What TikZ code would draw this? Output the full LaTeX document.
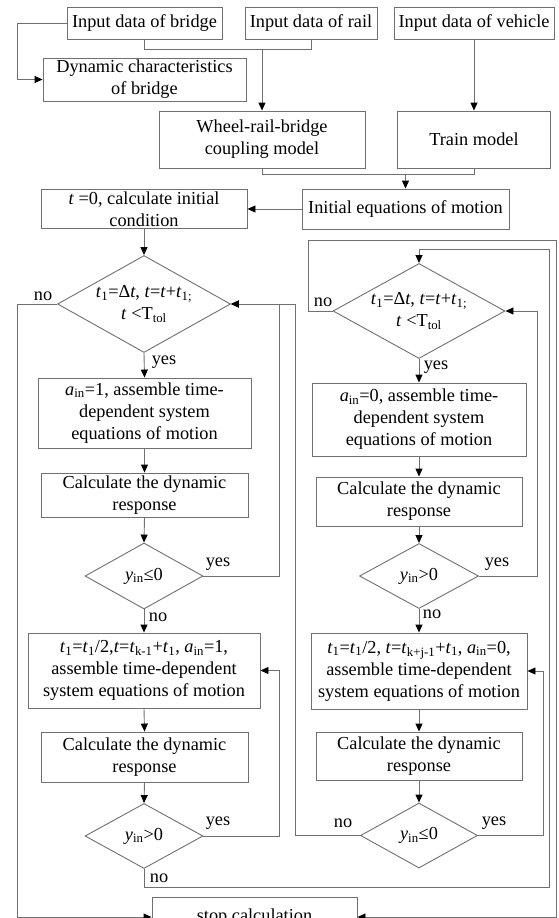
\documentclass[tikz,border=0pt]{standalone}
\usepackage{fontspec}
\setmainfont{Liberation Serif}
\usetikzlibrary{arrows.meta,shapes.geometric}
\definecolor{lc}{RGB}{112,112,112}
\newcommand{\ti}[1]{\textit{#1}}
\newcommand{\sbs}[1]{\textsubscript{#1}}
\begin{document}
\begin{tikzpicture}[x=1pt,y=-1pt,
  txt/.style={font=\fontsize{18.3}{22}\selectfont, text=black},
  box/.style={txt, draw=lc, line width=0.9pt, fill=white, inner sep=0pt, align=center},
  dia/.style={draw=lc, diamond, inner sep=0pt, line width=0.9pt, fill=white},
  lab/.style={txt, inner sep=0pt, align=center},
  ln/.style={draw=lc, line width=0.9pt},
  arr/.style={ln, -{Triangle[length=8pt,width=7pt,color=black]}}]
\useasboundingbox (0,0) rectangle (558,918);
\clip (0,0) rectangle (558,918);
% top row
\node[box, minimum width=155pt, minimum height=32pt] (inB) at (144.5,23) {Input data of bridge};
\node[box, minimum width=132pt, minimum height=32pt] (inR) at (311,23) {Input data of rail};
\node[box, minimum width=160pt, minimum height=32pt] (inV) at (474,23) {Input data of vehicle};
\node[box, minimum width=203pt, minimum height=43pt] (dyn) at (144.5,79.5) {Dynamic characteristics\\of bridge};
\node[box, minimum width=206pt, minimum height=57pt] (wheel) at (262,139.5) {Wheel-rail-bridge\\coupling model};
\node[box, minimum width=153pt, minimum height=57pt] (train) at (474,139.5) {Train model};
\node[box, minimum width=206pt, minimum height=39pt] (t0) at (144,209) {\ti{t} =0, calculate initial\\condition};
\node[box, minimum width=207pt, minimum height=40pt] (ini) at (405.5,209) {Initial equations of motion};
% left column
\node[dia, minimum width=173pt, minimum height=97pt,
  label={[lab]center:{\ti{t}\sbs{1}=Δ\ti{t}, \ti{t}=\ti{t}+\ti{t}\sbs{1;}\\\ti{t} <T\sbs{tol}}}] (LD) at (144,304) {};
\node[box, minimum width=213pt, minimum height=70pt] (A1) at (144.5,413) {\ti{a}\sbs{in}=1, assemble time-\\dependent system\\equations of motion};
\node[box, minimum width=207pt, minimum height=44pt] (C1) at (144.5,495) {Calculate the dynamic\\response};
\node[dia, minimum width=118pt, minimum height=66pt, label={[lab]center:{\ti{y}\sbs{in}≤0}}] (D1) at (144,576) {};
\node[box, minimum width=232pt, minimum height=75pt] (B1) at (144,670.5) {\ti{t}\sbs{1}=\ti{t}\sbs{1}/2,\ti{t}=\ti{t}\sbs{k-1}+\ti{t}\sbs{1}, \ti{a}\sbs{in}=1,\\assemble time-dependent\\system equations of motion};
\node[box, minimum width=207pt, minimum height=50pt] (C2) at (144.5,757) {Calculate the dynamic\\response};
\node[dia, minimum width=118pt, minimum height=65pt, label={[lab]center:{\ti{y}\sbs{in}>0}}] (D2) at (144,836) {};
% right column
\node[dia, minimum width=172pt, minimum height=95pt,
  label={[lab]center:{\ti{t}\sbs{1}=Δ\ti{t}, \ti{t}=\ti{t}+\ti{t}\sbs{1;}\\\ti{t} <T\sbs{tol}}}] (RD) at (419,311) {};
\node[box, minimum width=214pt, minimum height=73pt] (A2) at (419,419.5) {\ti{a}\sbs{in}=0, assemble time-\\dependent system\\equations of motion};
\node[box, minimum width=206pt, minimum height=49pt] (C3) at (419,501.5) {Calculate the dynamic\\response};
\node[dia, minimum width=119pt, minimum height=65pt, label={[lab]center:{\ti{y}\sbs{in}>0}}] (D3) at (419,576) {};
\node[box, minimum width=216pt, minimum height=76pt] (B2) at (419,671) {\ti{t}\sbs{1}=\ti{t}\sbs{1}/2, \ti{t}=\ti{t}\sbs{k+j-1}+\ti{t}\sbs{1}, \ti{a}\sbs{in}=0,\\assemble time-dependent\\system equations of motion};
\node[box, minimum width=206pt, minimum height=48pt] (C4) at (419,756) {Calculate the dynamic\\response};
\node[dia, minimum width=117pt, minimum height=65pt, label={[lab]center:{\ti{y}\sbs{in}≤0}}] (D4) at (419,835.5) {};
\node[box, minimum width=205pt, minimum height=40pt] (stop) at (254.5,917) {stop calculation};
% connectors top
\draw[arr] (inB.west) -- (17,23) |- (dyn.west);
\draw[ln] (inB.south) -- (144.5,49) -| (inR.south);
\coordinate (j1) at (262,49);
\draw[arr] (j1) -- (wheel.north);
\draw[arr] (inV.south) -- (train.north);
\draw[ln] (wheel.south) -- (262,174) -| (train.south);
\coordinate (j2) at (405.5,174);
\draw[arr] (j2) -- (ini.north);
\draw[arr] (ini.west) -- (t0.east);
\draw[arr] (t0.south) -- (LD.north);
% left column connectors
\draw[arr] (LD.south) -- (A1.north);
\draw[arr] (A1.south) -- (C1.north);
\draw[arr] (C1.south) -- (D1.north);
\draw[arr] (D1.south) -- (B1.north);
\draw[arr] (B1.south) -- (C2.north);
\draw[arr] (C2.south) -- (D2.north);
\draw[arr] (D1.east) -- (279,576) |- (LD.east);
\draw[arr] (D2.east) -- (279,836) |- (B1.east);
\draw[arr] (D2.south) -- (144,887) -- (549,887) -- (549,249) -| (RD.north);
\draw[arr] (LD.west) -- (17,304) |- (stop.west);
% right column connectors
\draw[arr] (RD.west) -- (308,311) -- (308,240) -- (556,240) |- (stop.east);
\draw[arr] (RD.south) -- (A2.north);
\draw[arr] (A2.south) -- (C3.north);
\draw[arr] (C3.south) -- (D3.north);
\draw[arr] (D3.south) -- (B2.north);
\draw[arr] (B2.south) -- (C4.north);
\draw[arr] (C4.south) -- (D4.north);
\draw[arr] (D3.east) -- (537,576) |- (RD.east);
\draw[arr] (D4.east) -- (543,835.5) |- (B2.east);
\draw[arr] (D4.west) -- (295,835.5) |- (LD.east);
% labels
\node[lab] at (43,296) {no};
\node[lab] at (164,362) {yes};
\node[lab] at (218,564) {yes};
\node[lab] at (158,617) {no};
\node[lab] at (218,823) {yes};
\node[lab] at (159,878) {no};
\node[lab] at (323,302) {no};
\node[lab] at (436,367) {yes};
\node[lab] at (497,564) {yes};
\node[lab] at (432,614) {no};
\node[lab] at (343,823) {no};
\node[lab] at (494,823) {yes};
\end{tikzpicture}
\end{document}
